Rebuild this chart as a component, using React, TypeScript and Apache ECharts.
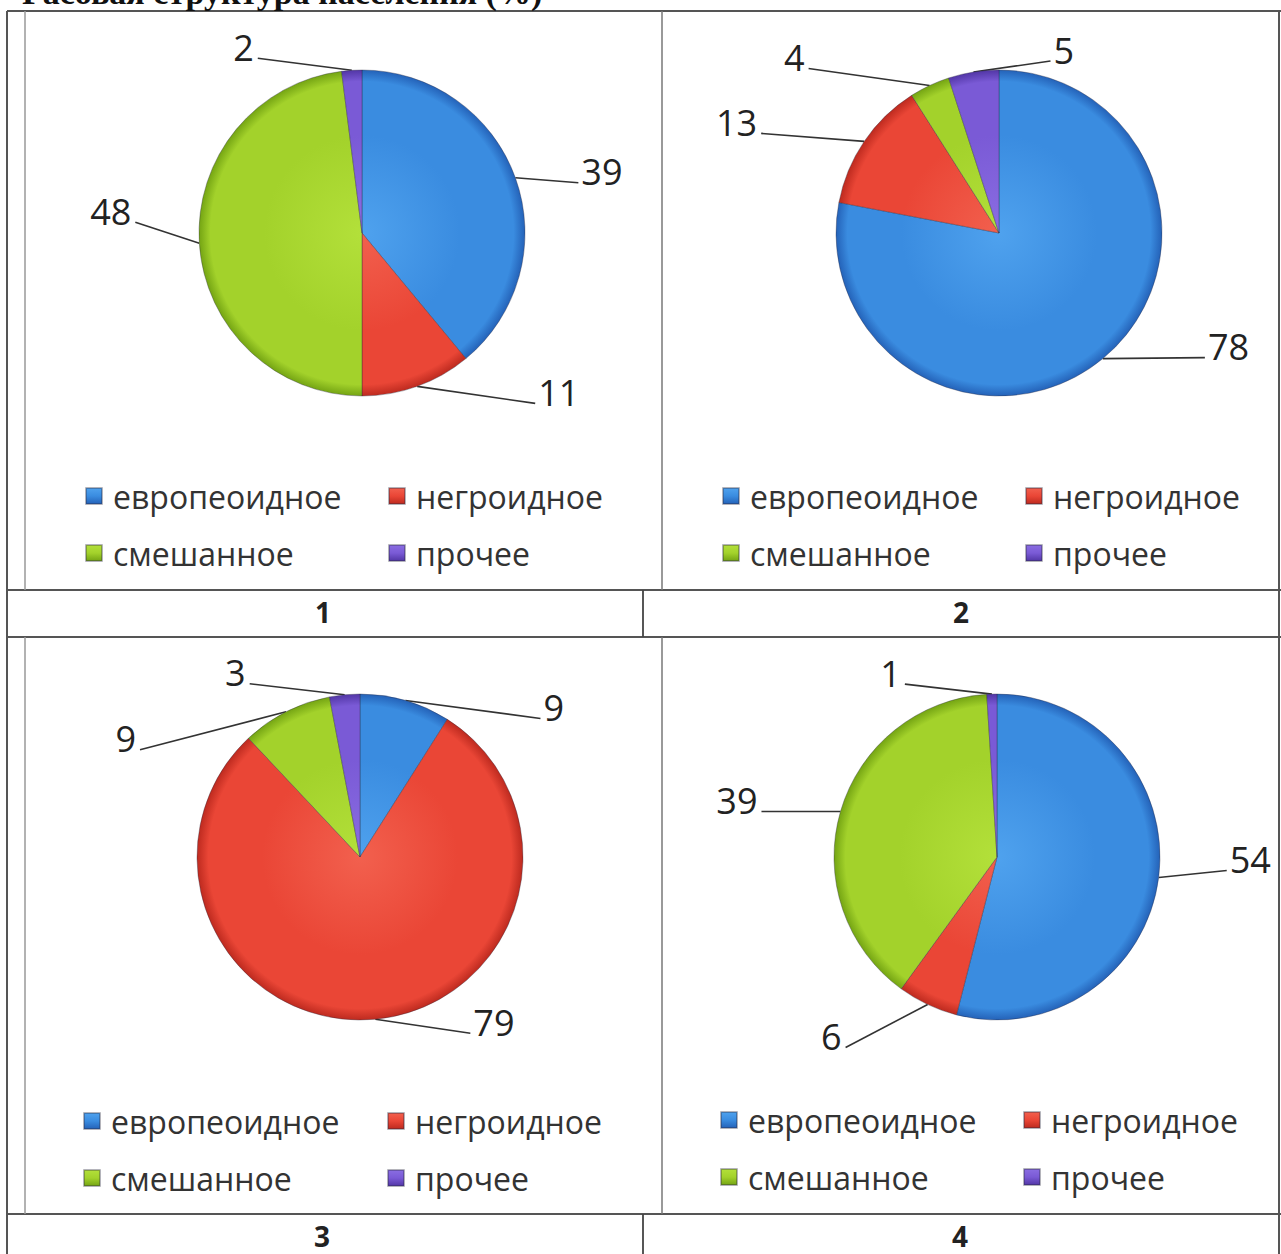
import React, { useEffect, useRef } from "react";
import * as echarts from "echarts";

const TITLE = "Расовая структура населения (%)";
const CATEGORIES = ["европеоидное", "негроидное", "смешанное", "прочее"];
const CHART_NUMBERS = ["1", "2", "3", "4"];
const VALUES_1 = [39, 11, 48, 2];
const VALUES_2 = [78, 13, 4, 5];
const VALUES_3 = [9, 79, 9, 3];
const VALUES_4 = [54, 6, 39, 1];
const SERIES_VALUES = [VALUES_1, VALUES_2, VALUES_3, VALUES_4];

// layout (not data)
const W = 1281;
const H = 1254;
const CENTERS = [
  [362, 233],
  [999, 233],
  [360, 857],
  [997, 857],
];
const RADIUS = 163;
// leader line end, relative to the slice's edge point, per chart, per slice
const LEADER_ENDS = [
  [[63, 5], [118, 17], [-64, -21], [-94, -12]],
  [[102, -1], [-103, -8], [-121, -17], [77, -11]],
  [[135, 18], [95, 14], [-146, 38], [-95, -11]],
  [[68, -7], [-82, 43], [-79, 0], [-87, -10]],
];
const LEGEND_POS = [
  [85, 388, 480],
  [722, 1025, 480],
  [83, 387, 1105],
  [720, 1023, 1104],
];
const NUMBER_POS = [
  [323, 612],
  [961, 612],
  [322, 1236],
  [960, 1236],
];

const PALETTE = [
  { light: "#4FA2EE", base: "#3A8CE0", dark: "#2462B8" },
  { light: "#F2604E", base: "#EA4636", dark: "#BD2A1F" },
  { light: "#B3E03A", base: "#A3D22B", dark: "#74A413" },
  { light: "#8A6DE2", base: "#7A5AD6", dark: "#5236A6" },
];

const FONT = '"Open Sans", "Noto Sans", sans-serif';

function radial(cx: number, cy: number, r: number, p: { light: string; base: string; dark: string }) {
  return {
    type: "radial",
    x: cx,
    y: cy,
    r: r,
    global: true,
    colorStops: [
      { offset: 0, color: p.light },
      { offset: 0.6, color: p.base },
      { offset: 0.93, color: p.base },
      { offset: 1, color: p.dark },
    ],
  };
}

function iconGrad(p: { light: string; base: string; dark: string }) {
  return {
    type: "linear",
    x: 0,
    y: 0,
    x2: 0,
    y2: 1,
    colorStops: [
      { offset: 0, color: p.light },
      { offset: 0.5, color: p.base },
      { offset: 1, color: p.dark },
    ],
  };
}

function line(x1: number, y1: number, x2: number, y2: number, stroke = "#555", lw = 2) {
  return {
    type: "line",
    shape: { x1, y1, x2, y2 },
    style: { stroke, lineWidth: lw },
    silent: true,
  };
}

export default function App() {
  const ref = useRef<HTMLDivElement>(null);
  useEffect(() => {
    if (!ref.current) return;
    const chart = echarts.init(ref.current, undefined, { renderer: "svg" });

    const series = SERIES_VALUES.map((vals, ci) => ({
      type: "pie",
      center: CENTERS[ci],
      radius: RADIUS,
      startAngle: 90,
      clockwise: true,
      avoidLabelOverlap: false,
      label: {
        show: true,
        position: "outside",
        formatter: "{c}",
        fontSize: 36,
        fontFamily: FONT,
        color: "#222",
      },
      labelLine: {
        show: true,
        length: 6,
        length2: 40,
        lineStyle: { color: "#333", width: 1.6 },
      },
      labelLayout: (params: any) => {
        const pts = params.labelLinePoints;
        if (!pts || !pts.length) return {};
        const p0 = pts[0];
        const off = LEADER_ENDS[ci][params.dataIndex];
        const end = [p0[0] + off[0], p0[1] + off[1]];
        const right = off[0] >= 0;
        return {
          x: right ? end[0] + 3 : end[0] - 4,
          y: end[1] - 11,
          align: right ? "left" : "right",
          verticalAlign: "middle",
          labelLinePoints: [p0, end],
        };
      },
      itemStyle: { borderColor: "rgba(40,40,60,0.35)", borderWidth: 1 },
      emphasis: { disabled: true },
      data: vals.map((v, i) => ({
        name: CATEGORIES[i],
        value: v,
        itemStyle: { color: radial(CENTERS[ci][0], CENTERS[ci][1], RADIUS, PALETTE[i]) },
      })),
    }));

    const legends: any[] = [];
    LEGEND_POS.forEach(([x1, x2, y]) => {
      [[0, 2, x1], [1, 3, x2]].forEach(([a, b, x]) => {
        legends.push({
          left: x,
          top: y,
          orient: "vertical",
          padding: 0,
          itemWidth: 16,
          itemHeight: 16,
          itemGap: 25,
          icon: "rect",
          selectedMode: false,
          textStyle: { fontSize: 32, fontFamily: FONT, color: "#333", padding: [0, 0, 0, 6] },
          data: [a, b].map((k) => ({
            name: CATEGORIES[k],
            itemStyle: { color: iconGrad(PALETTE[k]) },
          })),
        });
      });
    });

    const graphics: any[] = [
      line(7, 11, W, 11),
      line(7, 590, W, 590),
      line(7, 637, W, 637),
      line(7, 1214, W, 1214),
      line(7, 11, 7, H),
      line(1279, 11, 1279, H),
      line(662, 11, 662, 590, "#777", 1.5),
      line(662, 637, 662, 1214, "#777", 1.5),
      line(643, 590, 643, 637, "#444", 1.8),
      line(643, 1214, 643, H, "#444", 1.8),
      line(25, 11, 25, 590, "#999", 1.5),
      line(25, 637, 25, 1214, "#999", 1.5),
      {
        type: "text",
        x: 22,
        y: -8,
        silent: true,
        style: {
          text: TITLE,
          fontSize: 34,
          fontWeight: "bold",
          fontFamily: '"Liberation Serif", "DejaVu Serif", serif',
          fill: "#111",
          verticalAlign: "middle",
          align: "left",
        },
      },
      ...CHART_NUMBERS.map((n, i) => ({
        type: "text",
        x: NUMBER_POS[i][0],
        y: NUMBER_POS[i][1],
        silent: true,
        style: {
          text: n,
          fontSize: 28,
          lineHeight: 28,
          fontWeight: "bold",
          fontFamily: FONT,
          fill: "#222",
          align: "center",
          verticalAlign: "middle",
        },
      })),
    ];

    chart.setOption({
      animation: false,
      backgroundColor: "#ffffff",
      legend: legends,
      series,
      graphic: graphics,
    });
    return () => chart.dispose();
  }, []);
  return <div ref={ref} style={{ position: "absolute", left: 0, top: 0, width: W, height: H }} />;
}
